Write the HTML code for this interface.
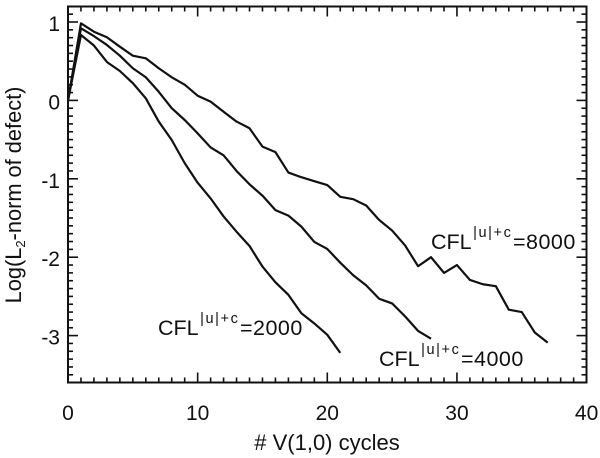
<!DOCTYPE html>
<html>
<head>
<meta charset="utf-8">
<style>
html,body{margin:0;padding:0;background:#fff;}
svg{display:block;}
text{font-family:"Liberation Sans",Arial,sans-serif;fill:#111;}
</style>
</head>
<body>
<svg id="chart" xmlns="http://www.w3.org/2000/svg" width="600" height="458" viewBox="0 0 600 458">
  <g id="series"></g>
  <g id="ticks"></g>
  <rect x="68" y="6.5" width="518.5" height="376" fill="none" stroke="#111" stroke-width="2"/>
  <g id="labels"></g>
  <text x="327" y="450" font-size="22" text-anchor="middle"># V(1,0) cycles</text>
  <text transform="translate(21,195) rotate(-90)" font-size="21.8" text-anchor="middle">Log(L<tspan font-size="13" dy="4">2</tspan><tspan dy="-4">-norm of defect)</tspan></text>
  <text x="158" y="335" font-size="21.5">CFL<tspan font-size="14.5" letter-spacing="1.6" dy="-12" dx="1.5">|u|+c</tspan><tspan dy="12" dx="0.5" letter-spacing="0.5">=2000</tspan></text>
  <text x="379" y="366" font-size="21.5">CFL<tspan font-size="14.5" letter-spacing="1.6" dy="-12" dx="1.5">|u|+c</tspan><tspan dy="12" dx="0.5" letter-spacing="0.5">=4000</tspan></text>
  <text x="431" y="249" font-size="21.5">CFL<tspan font-size="14.5" letter-spacing="1.6" dy="-12" dx="1.5">|u|+c</tspan><tspan dy="12" dx="0.5" letter-spacing="0.5">=8000</tspan></text>
</svg>
<script>
const cfl2000 = [0,.834,.70,.49,.375,.22,.027,-.27,-.505,-.8,-1.05,-1.25,-1.48,-1.675,-1.857,-2.12,-2.32,-2.48,-2.715,-2.845,-2.99,-3.22];
const cfl4000 = [0,.92,.82,.707,.57,.41,.295,.11,-.1,-.25,-.42,-.6,-.7,-.9,-1.07,-1.215,-1.4,-1.47,-1.61,-1.805,-1.895,-2.07,-2.23,-2.36,-2.53,-2.59,-2.755,-2.94,-3.04];
const cfl8000 = [0,.983,.876,.805,.685,.57,.537,.41,.295,.2,.06,-.015,-.145,-.27,-.355,-.59,-.66,-.92,-.98,-1.03,-1.08,-1.23,-1.26,-1.34,-1.525,-1.66,-1.85,-2.115,-2.0,-2.2,-2.1,-2.29,-2.345,-2.37,-2.67,-2.70,-2.96,-3.09];
const xTickLabels = [0,10,20,30,40];
const yTickLabels = [1,0,-1,-2,-3];

const NS = 'http://www.w3.org/2000/svg';
const xScale = v => 68 + v * 12.965;
const yScale = v => 100.4 - v * 78.4;

const seriesGroup = document.getElementById('series');
const tickGroup = document.getElementById('ticks');
const labelGroup = document.getElementById('labels');

function drawSeries(values, name) {
  const line = document.createElementNS(NS, 'polyline');
  
  
  line.setAttribute('points', values.map((v, i) => xScale(i).toFixed(2) + ',' + yScale(v).toFixed(2)).join(' '));
  line.setAttribute('fill', 'none');
  line.setAttribute('stroke', '#111');
  line.setAttribute('stroke-width', '2.2');
  line.setAttribute('stroke-linejoin', 'round');
  seriesGroup.appendChild(line);
}
drawSeries(cfl2000, 'series-cfl-2000');
drawSeries(cfl4000, 'series-cfl-4000');
drawSeries(cfl8000, 'series-cfl-8000');

function tick(x1, y1, x2, y2) {
  const t = document.createElementNS(NS, 'line');
  
  
  t.setAttribute('x1', x1);
  t.setAttribute('y1', y1);
  t.setAttribute('x2', x2);
  t.setAttribute('y2', y2);
  t.setAttribute('stroke', '#111');
  t.setAttribute('stroke-width', '1.6');
  tickGroup.appendChild(t);
}
for (let i = 0; i <= 40; i++) {
  const len = i % 10 === 0 ? 10 : 5;
  const x = xScale(i);
  tick(x, 382.5, x, 382.5 - len);
  tick(x, 6.5, x, 6.5 + len);
}
for (let i = -36; i <= 12; i++) {
  const len = i % 10 === 0 ? 10 : 5;
  const y = yScale(i / 10);
  tick(68, y, 68 + len, y);
  tick(586.5, y, 586.5 - len, y);
}
function label(txt, x, y, anchor) {
  const t = document.createElementNS(NS, 'text');
  
  
  t.setAttribute('x', x);
  t.setAttribute('y', y);
  t.setAttribute('font-size', '21');
  t.setAttribute('text-anchor', anchor);
  t.textContent = txt;
  labelGroup.appendChild(t);
}
xTickLabels.forEach(v => label(String(v), xScale(v), 420, 'middle'));
yTickLabels.forEach(v => label(String(v), 60, yScale(v) + 9, 'end'));
</script>
</body>
</html>
